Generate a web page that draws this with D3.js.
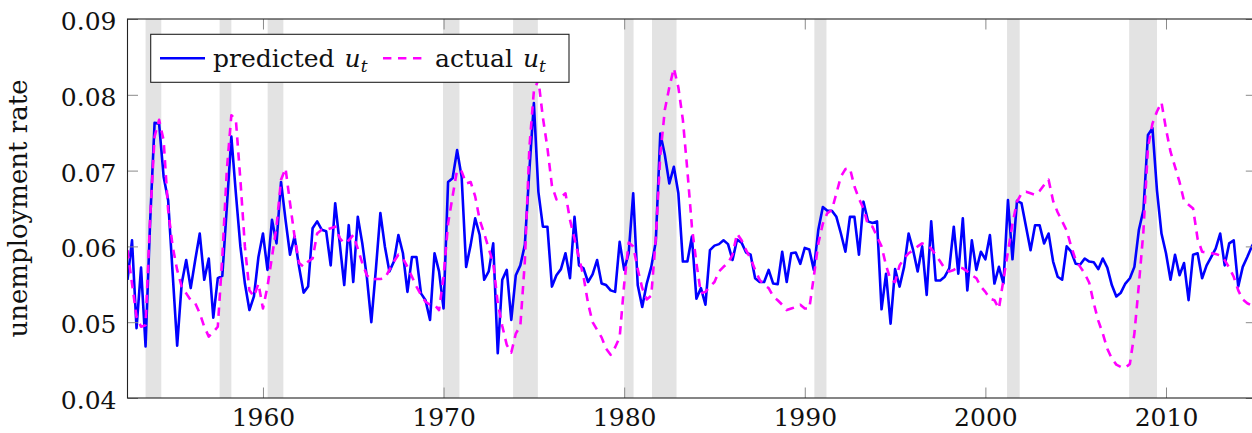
<!DOCTYPE html>
<html>
<head>
<meta charset="utf-8">
<script src="https://cdn.jsdelivr.net/npm/d3@7"></script>
<style>
  html, body { margin: 0; padding: 0; background: #fff; }
  svg { display: block; font-family: "DejaVu Serif", serif; }
</style>
</head>
<body>
<svg id="chart" width="1252" height="433"></svg>
<script>
// Quarterly observations, first one at 1952.5
const firstQuarter = 1952.5;

// Model-predicted unemployment rate u_t (quarterly)
const predicted = [
  0.0556, 0.0608, 0.0492, 0.0572, 0.0468, 0.0631, 0.0763, 0.0762, 0.0692, 0.0661,
  0.0564, 0.0469, 0.0551, 0.0582, 0.0545, 0.0582, 0.0617, 0.0556, 0.0584, 0.0506,
  0.0558, 0.0561, 0.0652, 0.0745, 0.0670, 0.0600, 0.0551, 0.0516, 0.0534, 0.0586,
  0.0617, 0.0569, 0.0635, 0.0604, 0.0685, 0.0635, 0.0589, 0.0613, 0.0573, 0.0539,
  0.0547, 0.0624, 0.0633, 0.0622, 0.0620, 0.0575, 0.0657, 0.0604, 0.0549, 0.0628,
  0.0553, 0.0639, 0.0604, 0.0560, 0.0500, 0.0569, 0.0644, 0.0600, 0.0567, 0.0580,
  0.0615, 0.0591, 0.0540, 0.0586, 0.0586, 0.0538, 0.0529, 0.0503, 0.0591, 0.0567,
  0.0518, 0.0685, 0.0690, 0.0727, 0.0692, 0.0573, 0.0602, 0.0637, 0.0615, 0.0556,
  0.0567, 0.0604, 0.0459, 0.0556, 0.0569, 0.0503, 0.0562, 0.0575, 0.0602, 0.0700,
  0.0789, 0.0672, 0.0626, 0.0626, 0.0547, 0.0562, 0.0570, 0.0591, 0.0558, 0.0639,
  0.0575, 0.0571, 0.0553, 0.0563, 0.0582, 0.0551, 0.0549, 0.0542, 0.0540, 0.0606,
  0.0569, 0.0591, 0.0670, 0.0549, 0.0520, 0.0551, 0.0573, 0.0606, 0.0749, 0.0721,
  0.0683, 0.0705, 0.0670, 0.0580, 0.0580, 0.0613, 0.0531, 0.0545, 0.0523, 0.0595,
  0.0601, 0.0603, 0.0608, 0.0603, 0.0582, 0.0609, 0.0605, 0.0592, 0.0589, 0.0558,
  0.0553, 0.0553, 0.0569, 0.0551, 0.0550, 0.0593, 0.0553, 0.0591, 0.0592, 0.0577,
  0.0598, 0.0596, 0.0569, 0.0622, 0.0652, 0.0647, 0.0647, 0.0639, 0.0617, 0.0593,
  0.0639, 0.0639, 0.0589, 0.0659, 0.0633, 0.0631, 0.0633, 0.0517, 0.0564, 0.0498,
  0.0570, 0.0547, 0.0573, 0.0617, 0.0595, 0.0567, 0.0600, 0.0536, 0.0633, 0.0555,
  0.0555, 0.0560, 0.0571, 0.0626, 0.0564, 0.0637, 0.0542, 0.0608, 0.0569, 0.0593,
  0.0583, 0.0615, 0.0551, 0.0573, 0.0551, 0.0661, 0.0583, 0.0660, 0.0657, 0.0626,
  0.0595, 0.0628, 0.0628, 0.0604, 0.0617, 0.0580, 0.0560, 0.0556, 0.0600, 0.0593,
  0.0577, 0.0576, 0.0584, 0.0580, 0.0579, 0.0570, 0.0584, 0.0572, 0.0549, 0.0534,
  0.0539, 0.0551, 0.0558, 0.0573, 0.0622, 0.0648, 0.0747, 0.0756, 0.0674, 0.0617,
  0.0591, 0.0556, 0.0589, 0.0562, 0.0578, 0.0529, 0.0589, 0.0591, 0.0558, 0.0575,
  0.0586, 0.0597, 0.0617, 0.0575, 0.0604, 0.0608, 0.0547, 0.0573, 0.0586, 0.0600,
  0.0610
];

// Actual unemployment rate u_t (quarterly)
const actual = [
  0.0595, 0.0551, 0.0507, 0.0494, 0.0496, 0.0635, 0.0745, 0.0767, 0.0740, 0.0648,
  0.0600, 0.0569, 0.0547, 0.0538, 0.0529, 0.0525, 0.0512, 0.0494, 0.0481, 0.0487,
  0.0494, 0.0586, 0.0701, 0.0773, 0.0767, 0.0688, 0.0600, 0.0542, 0.0534, 0.0551,
  0.0518, 0.0547, 0.0586, 0.0626, 0.0688, 0.0703, 0.0657, 0.0613, 0.0578, 0.0573,
  0.0580, 0.0584, 0.0617, 0.0622, 0.0622, 0.0624, 0.0626, 0.0611, 0.0604, 0.0608,
  0.0615, 0.0597, 0.0578, 0.0562, 0.0556, 0.0557, 0.0557, 0.0558, 0.0569, 0.0580,
  0.0589, 0.0584, 0.0573, 0.0560, 0.0547, 0.0536, 0.0527, 0.0523, 0.0523, 0.0516,
  0.0560, 0.0630, 0.0666, 0.0701, 0.0699, 0.0683, 0.0685, 0.0666, 0.0635, 0.0617,
  0.0597, 0.0578, 0.0525, 0.0495, 0.0470, 0.0460, 0.0485, 0.0495, 0.0580, 0.0730,
  0.0805, 0.0820, 0.0770, 0.0730, 0.0680, 0.0662, 0.0665, 0.0670, 0.0635, 0.0610,
  0.0585, 0.0560, 0.0525, 0.0500, 0.0490, 0.0480, 0.0465, 0.0457, 0.0467, 0.0480,
  0.0550, 0.0605, 0.0600, 0.0570, 0.0545, 0.0530, 0.0535, 0.0610, 0.0720, 0.0780,
  0.0810, 0.0835, 0.0810, 0.0767, 0.0700, 0.0626, 0.0578, 0.0538, 0.0540, 0.0547,
  0.0553, 0.0567, 0.0573, 0.0578, 0.0589, 0.0617, 0.0608, 0.0595, 0.0584, 0.0569,
  0.0556, 0.0549, 0.0545, 0.0534, 0.0529, 0.0523, 0.0516, 0.0518, 0.0520, 0.0523,
  0.0518, 0.0518, 0.0560, 0.0604, 0.0630, 0.0644, 0.0648, 0.0670, 0.0692, 0.0702,
  0.0703, 0.0679, 0.0663, 0.0650, 0.0628, 0.0626, 0.0613, 0.0600, 0.0575, 0.0556,
  0.0553, 0.0575, 0.0584, 0.0591, 0.0595, 0.0600, 0.0604, 0.0602, 0.0597, 0.0589,
  0.0580, 0.0571, 0.0567, 0.0569, 0.0573, 0.0571, 0.0567, 0.0562, 0.0558, 0.0547,
  0.0540, 0.0531, 0.0529, 0.0518, 0.0556, 0.0593, 0.0630, 0.0659, 0.0670, 0.0672,
  0.0670, 0.0668, 0.0673, 0.0681, 0.0688, 0.0660, 0.0645, 0.0633, 0.0621, 0.0600,
  0.0582, 0.0573, 0.0564, 0.0552, 0.0525, 0.0502, 0.0485, 0.0465, 0.0452, 0.0444,
  0.0441, 0.0440, 0.0445, 0.0485, 0.0550, 0.0620, 0.0730, 0.0762, 0.0778, 0.0790,
  0.0755, 0.0725, 0.0705, 0.0685, 0.0660, 0.0655, 0.0650, 0.0610, 0.0593, 0.0592,
  0.0591, 0.0590, 0.0588, 0.0582, 0.0572, 0.0560, 0.0542, 0.0530, 0.0525, 0.0522,
  0.0518
];

// NBER recession periods (decimal years)
const recessionStart = [1953.50, 1957.60, 1960.26, 1969.97, 1973.85, 1980.00, 1981.54, 1990.53, 2001.20, 2007.96];
const recessionEnd   = [1954.37, 1958.25, 1961.13, 1970.88, 1975.22, 1980.52, 1982.90, 1991.20, 2001.90, 2009.50];

const yearTicks = [1960, 1970, 1980, 1990, 2000, 2010];
const rateTicks = [0.04, 0.05, 0.06, 0.07, 0.08, 0.09];
const seriesNames = ["predicted", "actual"];
const seriesColors = ["#0000ff", "#ff00ff"];
const yLabel = "unemployment rate";

const svg = d3.select("#chart");

const box = { left: 127.5, right: 1256.3, top: 19, bottom: 398 };
const lineWidth = 2.6;
const dashPattern = "8.4,6.6";

const dates = predicted.map((_, i) => firstQuarter + i / 4);

const x = d3.scaleLinear()
  .domain([firstQuarter, d3.max(dates)])
  .range([box.left, box.right]);

const y = d3.scaleLinear()
  .domain([0.04, 0.09])
  .range([box.bottom, box.top]);

svg.append("defs").append("clipPath").attr("id", "plot-clip")
  .append("rect")
  .attr("x", box.left).attr("y", box.top)
  .attr("width", box.right - box.left).attr("height", box.bottom - box.top);

// Recession shading
svg.append("g")
  .selectAll("rect")
  .data(recessionStart.map((s, i) => [s, recessionEnd[i]]))
  .join("rect")
  .attr("x", d => x(d[0]))
  .attr("y", box.top)
  .attr("width", d => x(d[1]) - x(d[0]))
  .attr("height", box.bottom - box.top)
  .attr("fill", "#e3e3e3");

// Series lines
const line = values => d3.line()
  .x((_, i) => x(dates[i]))
  .y(d => y(d))(values);

const lines = svg.append("g").attr("clip-path", "url(#plot-clip)");

lines.append("path")
  .attr("d", line(predicted))
  .attr("fill", "none")
  .attr("stroke", seriesColors[0])
  .attr("stroke-width", lineWidth)
  .attr("stroke-linejoin", "round");

lines.append("path")
  .attr("d", line(actual))
  .attr("fill", "none")
  .attr("stroke", seriesColors[1])
  .attr("stroke-width", lineWidth)
  .attr("stroke-dasharray", dashPattern)
  .attr("stroke-linejoin", "round");

// Axes: ticks on all four sides, pointing inward
const tickLen = 10.5;
const axisLeft = d3.axisLeft(y).tickValues(rateTicks).tickSize(-tickLen).tickPadding(11)
  .tickFormat(d3.format(".2f"));
const axisRight = d3.axisRight(y).tickValues(rateTicks).tickSize(-tickLen).tickFormat("");
const axisBottom = d3.axisBottom(x).tickValues(yearTicks).tickSize(-tickLen).tickPadding(10.5)
  .tickFormat(d3.format("d"));
const axisTop = d3.axisTop(x).tickValues(yearTicks).tickSize(-tickLen).tickFormat("");

function styleAxis(g) {
  g.select(".domain").remove();
  g.selectAll(".tick line").attr("stroke", "#8a8a8a").attr("stroke-width", 1);
  g.selectAll(".tick text")
    .attr("fill", "#111")
    .attr("font-family", "DejaVu Serif, serif")
    .attr("font-size", 25);
}

svg.append("g").attr("transform", `translate(${box.left},0)`).call(axisLeft).call(styleAxis)
  .selectAll(".tick text").attr("dy", "0.42em");
svg.append("g").attr("transform", `translate(${box.right},0)`).call(axisRight).call(styleAxis);
svg.append("g").attr("transform", `translate(0,${box.bottom})`).call(axisBottom).call(styleAxis)
  .selectAll(".tick text").attr("dy", "0.71em");
svg.append("g").attr("transform", `translate(0,${box.top})`).call(axisTop).call(styleAxis);

// Frame
svg.append("rect")
  .attr("x", box.left).attr("y", box.top)
  .attr("width", box.right - box.left).attr("height", box.bottom - box.top)
  .attr("fill", "none").attr("stroke", "#222").attr("stroke-width", 1.1);

// Y-axis title
svg.append("text")
  .attr("transform", `translate(27,${(box.top + box.bottom) / 2}) rotate(-90)`)
  .attr("text-anchor", "middle")
  .attr("font-size", 26)
  .attr("fill", "#111")
  .text(yLabel);

// Legend
const legend = svg.append("g");
legend.append("rect")
  .attr("x", 150.7).attr("y", 34.3).attr("width", 418.3).attr("height", 48)
  .attr("fill", "#fff").attr("stroke", "#222").attr("stroke-width", 1.1);

const legendItems = [
  { name: seriesNames[0], color: seriesColors[0], dash: null, x0: 160, x1: 205, tx: 213 },
  { name: seriesNames[1], color: seriesColors[1], dash: dashPattern, x0: 383, x1: 424, tx: 435 }
];

legendItems.forEach(item => {
  legend.append("line")
    .attr("x1", item.x0).attr("x2", item.x1).attr("y1", 58.3).attr("y2", 58.3)
    .attr("stroke", item.color).attr("stroke-width", lineWidth)
    .attr("stroke-dasharray", item.dash);
  const t = legend.append("text")
    .attr("x", item.tx).attr("y", 66.5)
    .attr("font-size", 25).attr("fill", "#111");
  t.append("tspan").text(item.name);
  t.append("tspan").attr("dx", 10).attr("font-style", "italic").text("u");
  t.append("tspan").attr("dy", 5).attr("font-size", 17).attr("font-style", "italic").text("t");
});
</script>
</body>
</html>
